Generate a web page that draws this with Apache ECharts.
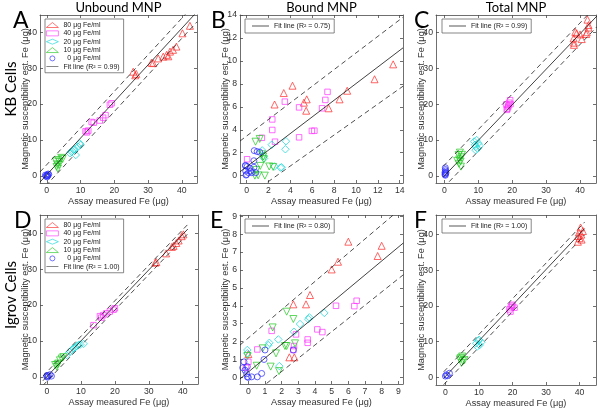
<!DOCTYPE html>
<html><head><meta charset="utf-8">
<script src="https://cdn.jsdelivr.net/npm/echarts@6/dist/echarts.min.js"></script>
<style>html,body{margin:0;padding:0;background:#fff}#c{width:600px;height:409px}</style>
</head><body><div id="c"></div>
<script>
// ---------- text ----------
const columnTitles = ['Unbound MNP', 'Bound MNP', 'Total MNP'];
const rowTitles = ['KB Cells', 'Igrov Cells'];
const panelLetters = ['A', 'B', 'C', 'D', 'E', 'F'];
const xTitle = 'Assay measured Fe (\u03bcg)';
const yTitle = 'Magnetic susceptibility est. Fe (\u03bcg)';
const markerNames = ['80 \u03bcg Fe/ml', '40 \u03bcg Fe/ml', '20 \u03bcg Fe/ml', '10 \u03bcg Fe/ml', '  0 \u03bcg Fe/ml'];
const r2Values = ['0.99', '0.75', '0.99', '1.00', '0.80', '1.00'];

// ---------- ticks ----------
const ticks40 = [0, 10, 20, 30, 40];
const ticksB = [0, 2, 4, 6, 8, 10, 12, 14];
const ticksE = [0, 1, 2, 3, 4, 5, 6, 7, 8, 9];

// ---------- Panel A (KB, unbound) ----------
const A_80 = [[25.6,29.0],[26.5,28.4],[26.2,28.0],[31.0,31.5],[31.5,31.4],[33.0,32.7],[34.5,33.2],[35.5,33.7],[36.0,33.3],[36.5,34.6],[37.4,35.1],[38.4,36.0],[40.2,39.7],[42.4,41.8]];
const A_40 = [[11.5,12.4],[11.9,12.1],[12.3,12.6],[13.3,15.0],[13.9,14.8],[15.7,15.4],[16.7,16.2],[17.4,16.9],[18.7,19.8],[19.2,20.2]];
const A_20 = [[6.9,6.3],[7.3,6.7],[7.6,6.9],[8.0,7.2],[8.3,7.4],[8.6,5.8],[9.3,8.1],[9.8,9.0],[10.0,8.6]];
const A_10 = [[2.7,4.0],[2.9,2.5],[3.1,3.2],[3.3,2.0],[3.4,4.4],[3.6,3.0],[3.8,3.9],[4.3,5.0],[4.7,4.7]];
const A_0 = [[-0.4,0.2],[0.0,0.2],[0.3,0.0],[0.6,0.4],[0.1,-0.3],[-0.2,-0.1],[0.4,0.5],[0.2,0.1]];
const A_fit = [0.3, 1.02], A_upper = [3.1, 1.02], A_lower = [-2.5, 1.02];

// ---------- Panel B (KB, bound) ----------
const B_80 = [[13.4,9.7],[11.7,8.4],[4.2,7.84],[3.4,7.2],[2.56,6.2],[5.5,6.65],[5.24,6.36],[5.45,5.66],[7.5,5.87],[8.5,6.65],[9.2,7.4]];
const B_40 = [[7.4,7.3],[3.5,6.45],[7.2,6.6],[4.8,5.95],[6.9,5.87],[2.35,4.9],[2.35,3.98],[5.97,3.9],[6.2,3.92],[4.8,3.34],[2.6,2.96],[0.05,1.43],[1.4,3.3]];
const B_20 = [[3.6,3.0],[3.55,2.3],[2.3,2.7],[1.43,2.2],[3.2,0.73],[3.1,0.7],[2.55,0.8],[1.55,1.7],[1.6,1.5]];
const B_10 = [[0.82,2.96],[1.2,3.2],[1.52,1.66],[1.58,1.43],[1.4,1.86],[1.25,0.85],[2.07,0.8],[2.43,0.76],[1.06,0.03],[1.67,0.0],[0.76,0.0],[0.9,0.5]];
const B_0 = [[0.7,2.18],[0.97,2.1],[1.2,2.05],[0.67,1.3],[-0.1,0.9],[-0.1,0.85],[0.05,0.8],[0.3,0.64],[-0.08,0.4],[0.18,0.26],[0.48,0.26],[0.85,0.26],[-0.05,0.05],[0.67,0.73],[0.38,0.4],[0.0,0.1]];
const B_fit = [0.77, 0.725], B_upper = [3.45, 0.724], B_lower = [-1.86, 0.675];

// ---------- Panel C (KB, total) ----------
const C_80 = [[38.1,38.3],[38.2,37.1],[38.2,36.5],[40.5,38.1],[40.0,39.4],[39.0,39.7],[42.2,43.5],[42.5,42.0],[42.5,41.3],[42.0,40.0],[38.6,40.1],[41.8,39.5]];
const C_40 = [[19.4,21.1],[18.9,19.6],[18.6,18.7],[19.1,20.4],[18.3,19.9],[18.4,18.4],[19.5,20.0],[18.8,19.2]];
const C_20 = [[9.5,10.0],[9.05,8.7],[10.0,9.1],[9.3,8.1],[10.4,8.4],[9.2,7.2],[8.8,9.6],[9.8,7.6]];
const C_10 = [[4.6,6.5],[4.2,5.8],[5.0,5.2],[4.4,4.6],[4.8,4.0],[4.3,3.4],[4.9,2.6],[3.8,4.2],[5.2,5.9]];
const C_0 = [[0.3,0.2],[0.3,0.6],[0.2,1.0],[0.4,1.4],[0.3,1.8],[0.3,2.3],[0.5,0.9],[0.2,0.4]];
const C_fit = [0.0, 0.99], C_upper = [3.0, 0.99], C_lower = [-3.0, 0.99];

// ---------- Panel D (Igrov, unbound) ----------
const D_80 = [[31.9,31.8],[32.2,32.0],[35.1,34.4],[36.8,36.2],[37.3,36.5],[38.1,37.3],[38.8,38.0],[39.7,39.2],[40.2,39.7]];
const D_40 = [[13.7,14.4],[15.6,16.9],[16.0,16.5],[16.6,17.2],[17.5,17.7],[18.5,18.2],[19.6,18.7],[20.0,19.1]];
const D_20 = [[5.8,6.05],[6.8,7.0],[7.3,7.5],[7.8,7.9],[8.3,8.2],[8.8,8.6],[9.3,8.9],[9.8,9.0],[10.8,9.2]];
const D_10 = [[2.4,3.3],[2.9,2.8],[3.0,3.4],[3.3,3.7],[3.8,4.6],[4.3,5.1],[4.8,5.5]];
const D_0 = [[0.4,0.3],[-0.1,0.1],[0.9,0.6],[1.3,0.2],[0.2,-0.1],[0.0,0.4]];
const D_fit = [0.1, 0.99], D_upper = [1.4, 0.99], D_lower = [-1.2, 0.99];

// ---------- Panel E (Igrov, bound) ----------
const E_80 = [[6.0,7.58],[8.0,7.35],[7.76,6.78],[5.38,6.46],[5.0,6.03],[3.7,4.6],[2.7,4.08],[3.46,4.08],[2.46,1.12],[2.76,1.12],[0.0,1.3]];
const E_40 = [[6.5,4.28],[6.36,3.98],[5.26,4.0],[4.14,2.68],[4.44,2.53],[3.56,2.12],[3.56,1.93],[2.86,2.4],[2.74,1.75],[2.7,1.53],[0.54,1.56],[1.4,2.6],[-0.14,0.54],[0.0,0.87]];
const E_20 = [[4.56,3.6],[3.66,3.35],[3.6,3.25],[3.1,2.98],[2.74,2.55],[1.8,2.12],[1.26,1.93],[1.2,1.8],[1.86,0.63],[-0.06,1.53],[-0.06,1.35]];
const E_10 = [[2.3,3.67],[2.7,3.26],[1.46,2.79],[0.86,1.62],[1.66,1.34],[2.2,1.75],[2.3,1.75],[2.8,1.9],[1.34,0.6],[1.84,0.35],[0.5,0.65],[-0.05,1.2]];
const E_0 = [[1.0,1.53],[0.94,1.0],[0.8,0.22],[0.54,0.03],[2.7,1.53],[-0.26,0.87],[-0.34,0.54],[-0.2,0.4],[-0.06,0.03],[0.2,0.03],[-0.06,0.6],[-0.1,0.2],[0.0,0.0]];
const E_fit = [0.3, 0.775], E_upper = [2.2, 0.79], E_lower = [-1.15, 0.74];

// ---------- Panel F (Igrov, total) ----------
const F_80 = [[39.5,38.0],[40.0,39.0],[40.5,40.0],[41.0,41.0],[40.3,42.0],[39.8,40.6],[40.6,38.6],[39.6,39.6]];
const F_40 = [[19.1,19.0],[19.8,20.0],[20.6,19.5],[19.4,18.4],[20.0,20.3],[19.5,19.6]];
const F_20 = [[9.2,9.5],[9.8,10.2],[10.7,9.8],[9.5,8.6],[10.2,9.0],[10.0,10.5]];
const F_10 = [[4.3,5.0],[5.0,5.8],[5.7,4.8],[4.8,4.0],[5.2,4.5],[4.6,5.4]];
const F_0 = [[0.3,0.65],[1.2,1.1],[0.0,0.3],[0.6,0.4]];
const F_fit = [0.2, 1.0], F_upper = [2.0, 1.0], F_lower = [-1.6, 1.0];

// x extent over which each panel's fit / bounds are drawn
const fitXSpan = [[-2, 44.5], [-0.6, 14.3], [-0.3, 45], [-1.2, 41.5], [-0.5, 9.3], [-0.5, 41.5]];

// ---------- assembly ----------
const panelData = [
  [A_80, A_40, A_20, A_10, A_0],
  [B_80, B_40, B_20, B_10, B_0],
  [C_80, C_40, C_20, C_10, C_0],
  [D_80, D_40, D_20, D_10, D_0],
  [E_80, E_40, E_20, E_10, E_0],
  [F_80, F_40, F_20, F_10, F_0]
];
const fitParams = [
  [A_fit, A_upper, A_lower], [B_fit, B_upper, B_lower], [C_fit, C_upper, C_lower],
  [D_fit, D_upper, D_lower], [E_fit, E_upper, E_lower], [F_fit, F_upper, F_lower]
];
const panelTicks = [ticks40, ticksB, ticks40, ticks40, ticksE, ticks40];

const grids = [
  {left: 40, top: 15, width: 157, height: 168},
  {left: 240, top: 15, width: 163, height: 168},
  {left: 436, top: 15, width: 160, height: 168},
  {left: 40, top: 215, width: 158, height: 169},
  {left: 240, top: 215, width: 163, height: 169},
  {left: 436, top: 215, width: 160, height: 170}
];
const ranges = [
  {x: [-2, 44.5], y: [-2, 44.8]},
  {x: [-0.6, 14.3], y: [-0.64, 14]},
  {x: [-2.45, 44.7], y: [-1.95, 44.8]},
  {x: [-2.07, 44.5], y: [-2, 45.1]},
  {x: [-0.5, 9.28], y: [-0.37, 9.07]},
  {x: [-2.8, 44.9], y: [-2.2, 45.5]}
];
const markerStyles = [
  {symbol: 'triangle', rotate: 0, size: 7, color: '#ff2a2a'},
  {symbol: 'rect', rotate: 0, size: 5.5, color: '#ff33ff'},
  {symbol: 'diamond', rotate: 0, size: 7.5, color: '#12d6d6'},
  {symbol: 'triangle', rotate: 180, size: 7, color: '#22c822'},
  {symbol: 'circle', rotate: 0, size: 6, color: '#2a2aff'}
];
const fitNames = r2Values.map(r => 'Fit line (R\u00b2 = ' + r + ')');
const tickFont = 'Liberation Sans';
const axisColor = '#4a4a4a';

function lineFrom(p, span) {
  return span.map(x => [x, p[0] + p[1] * x]);
}

const xAxes = [], yAxes = [], series = [];
grids.forEach((g, i) => {
  const tk = panelTicks[i];
  const common = (range, showLabel, pos) => ({
    type: 'value', gridIndex: i, position: pos, min: range[0], max: range[1],
    axisLine: {show: true, onZero: false, lineStyle: {color: axisColor, width: 0.8}},
    axisTick: {show: true, inside: true, length: 3, customValues: tk, lineStyle: {color: axisColor, width: 0.8}},
    axisLabel: {show: showLabel, customValues: tk, fontFamily: tickFont, fontSize: 8.7, color: '#333', margin: 3},
    splitLine: {show: false}
  });
  const xb = common(ranges[i].x, true, 'bottom');
  xb.name = xTitle; xb.nameLocation = 'middle'; xb.nameGap = 13.5; xb.nameMoveOverlap = false;
  xb.nameTextStyle = {fontFamily: tickFont, fontSize: 9.2, color: '#333'};
  xAxes.push(xb, common(ranges[i].x, false, 'top'));
  const yl = common(ranges[i].y, true, 'left');
  yl.name = yTitle; yl.nameLocation = 'middle'; yl.nameGap = 10; yl.nameMoveOverlap = false;
  yl.nameTextStyle = {fontFamily: tickFont, fontSize: 9.2, color: '#333'};
  yAxes.push(yl, common(ranges[i].y, false, 'right'));

  panelData[i].forEach((d, k) => {
    const m = markerStyles[k];
    series.push({
      type: 'scatter', name: markerNames[k], xAxisIndex: 2 * i, yAxisIndex: 2 * i,
      data: d, symbol: m.symbol, symbolRotate: m.rotate, symbolSize: m.size, silent: true,
      itemStyle: {color: 'rgba(255,255,255,0)', borderColor: m.color, borderWidth: 0.9}, z: 2
    });
  });
  const fp = fitParams[i];
  series.push({
    type: 'line', name: fitNames[i], xAxisIndex: 2 * i, yAxisIndex: 2 * i,
    data: lineFrom(fp[0], fitXSpan[i]), symbol: 'none', silent: true,
    itemStyle: {color: '#111'}, lineStyle: {color: '#111', width: 0.8}, z: 3
  });
  [fp[1], fp[2]].forEach(p => series.push({
    type: 'line', xAxisIndex: 2 * i, yAxisIndex: 2 * i,
    data: lineFrom(p, fitXSpan[i]), symbol: 'none', silent: true,
    itemStyle: {color: '#222'}, lineStyle: {color: '#222', width: 0.8, type: [5, 3.5]}, z: 3
  }));
});

const lineIcon = 'path://M0,0L24,0L24,1L0,1Z';
const legendText = {fontFamily: tickFont, fontSize: 7, color: '#222', lineHeight: 8};
const fullLegendData = markerNames.map(n => ({name: n, itemStyle: {borderWidth: 0.8}}));
const legends = [];
[[0, 45, 19], [3, 45, 219]].forEach(([i, l, t]) => legends.push({
  left: l, top: t, orient: 'vertical',
  data: fullLegendData.concat([{name: fitNames[i], icon: lineIcon, itemStyle: {color: '#111', borderWidth: 0}}]),
  itemWidth: 12, itemHeight: 5, itemGap: 0.35, padding: [2, 4, 2, 1],
  borderColor: '#555', borderWidth: 0.7, backgroundColor: '#fff', textStyle: legendText,
  selectedMode: false
}));
[[1, 245, 19], [2, 442, 19], [4, 245, 219], [5, 442, 219]].forEach(([i, l, t]) => legends.push({
  left: l, top: t, orient: 'vertical',
  data: [{name: fitNames[i], icon: lineIcon, itemStyle: {color: '#111', borderWidth: 0}}],
  itemWidth: 17, itemHeight: 5, padding: [3, 4, 3, 7],
  borderColor: '#555', borderWidth: 0.7, backgroundColor: '#fff', textStyle: legendText,
  selectedMode: false
}));

const graphics = [];
const colCenters = [118.5, 321.5, 516];
columnTitles.forEach((t, j) => graphics.push({
  type: 'text', x: colCenters[j], y: 7.5,
  style: {text: t, font: '13px Lato', fill: '#000', align: 'center', verticalAlign: 'middle'}
}));
const letterPos = [[13, 21], [211, 21], [414, 21], [14, 221], [210, 221], [414, 221]];
panelLetters.forEach((t, j) => graphics.push({
  type: 'text', x: letterPos[j][0], y: letterPos[j][1],
  style: {text: t, font: '23px Lato', fill: '#000', align: 'left', verticalAlign: 'middle'}
}));
const rowCenters = [89, 295];
rowTitles.forEach((t, j) => graphics.push({
  type: 'group', x: 11, y: rowCenters[j], rotation: Math.PI / 2,
  children: [{
    type: 'text', x: 0, y: 0,
    style: {text: t, font: '15px Lato', fill: '#000', align: 'center', verticalAlign: 'middle'}
  }]
}));

const chart = echarts.init(document.getElementById('c'), null, {renderer: 'canvas', width: 600, height: 409});
chart.setOption({
  animation: false,
  backgroundColor: '#fff',
  grid: grids,
  xAxis: xAxes,
  yAxis: yAxes,
  legend: legends,
  series: series,
  graphic: graphics
});
</script></body></html>
